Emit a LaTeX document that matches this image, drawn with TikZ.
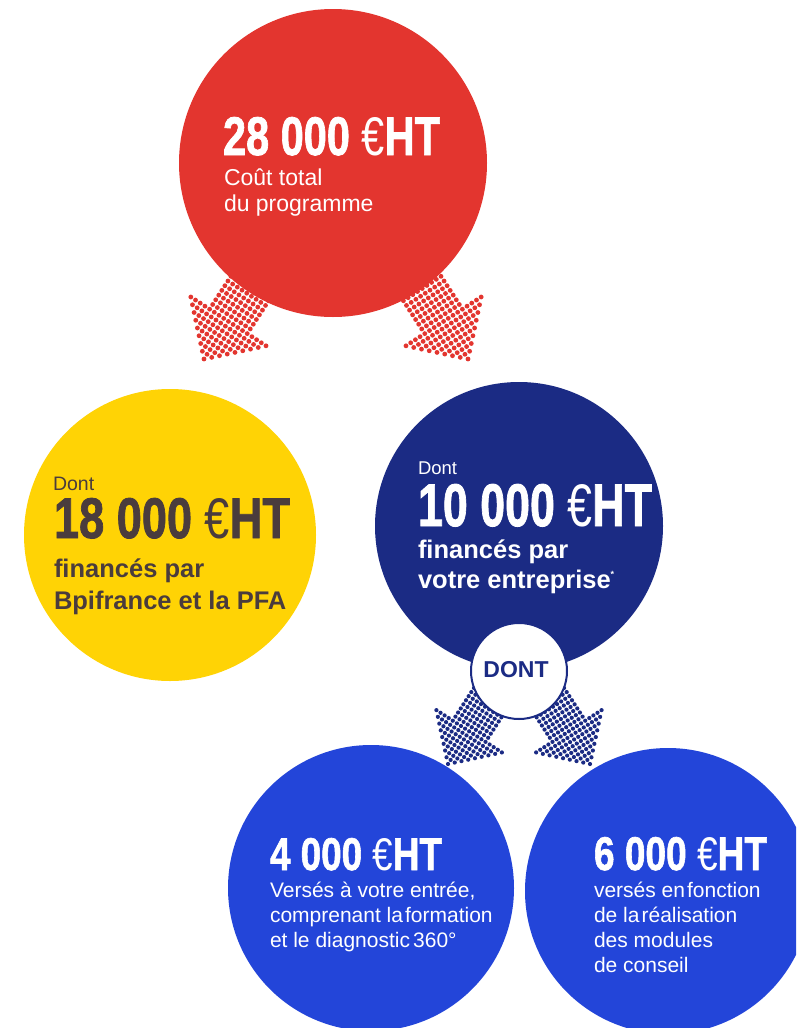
\documentclass[tikz,border=0pt]{standalone}
\usepackage{graphicx}
\usepackage{fontspec}
\setmainfont{Liberation Sans}
\newfontfamily\numfont[FakeBold=1.5]{Liberation Sans Bold}
\newfontfamily\eurofont{Liberation Sans}
\definecolor{cred}{HTML}{E3352F}
\definecolor{cyellow}{HTML}{FFD305}
\definecolor{cnavy}{HTML}{1B2B84}
\definecolor{cblue}{HTML}{2345D9}
\definecolor{cbrown}{HTML}{4A3C3D}
\newcommand\bignum[3]{\resizebox{#1pt}{#2pt}{\numfont #3 {\eurofont €}HT}}
\newcommand\fs[1]{\fontsize{#1}{#1}\selectfont}
% dotted arrow: tip x, tip y, ux, uy (tip->tail), spacing, dot radius, colour, head steps, total steps
\newcommand\dotarrow[9]{%
  \foreach \i in {0,...,#9}{%
    \pgfmathtruncatemacro\jm{\i<=#8 ? \i : 4}%
    \pgfmathtruncatemacro\jn{-\jm}%
    \foreach \j in {\jn,...,\jm}{%
      \fill[#7] ({#1+#5*(\i*(#3)-\j*(#4))},{#2+#5*(\i*(#4)+\j*(#3))}) circle[radius=#6];
    }%
  }%
}
\tikzset{
  disc/.style={circle, inner sep=0pt, outer sep=0pt, draw=none},
  lbl/.style={anchor=base west, inner sep=0pt, outer sep=0pt},
}
\begin{document}
\begin{tikzpicture}[x=1pt, y=-1pt]
\useasboundingbox (0,0) rectangle (796,1028);
\clip (0,0) rectangle (796,1028);
\fill[white] (0,0) rectangle (796,1028);

% dotted arrows (behind the discs)
\dotarrow{204}{359}{0.545}{-0.839}{5.6}{2.4pt}{cred}{8}{18}
\dotarrow{468}{359}{-0.545}{-0.839}{5.6}{2.4pt}{cred}{8}{18}
\dotarrow{448}{764}{0.543}{-0.84}{4.87}{2.1pt}{cnavy}{8}{17}
\dotarrow{590}{764}{-0.543}{-0.84}{4.87}{2.1pt}{cnavy}{8}{17}

% discs
\node[disc, fill=cred, minimum size=308pt] (cost) at (333,163) {};
\node[disc, fill=cyellow, minimum size=292pt] (bpi) at (170,535) {};
\node[disc, fill=cnavy, minimum size=288pt] (ent) at (519,526) {};
\node[disc, fill=white, draw=cnavy, line width=2pt, minimum size=96pt] (dont) at (519,671) {};
\node[disc, fill=cblue, minimum size=286pt] (entree) at (371,888) {};
\node[disc, fill=cblue, minimum size=286pt] (conseil) at (668,891) {};

% red disc text
\node[lbl, white] (rnum) at (223,155) {\bignum{217}{38}{28 000}};
\node[lbl, white, font=\fs{23}] (rl1) at (224,185) {Coût total};
\node[lbl, white, font=\fs{23}] (rl2) at (224,211) {du programme};

% yellow disc text
\node[lbl, cbrown, font=\fs{19.5}] (ydont) at (53,490) {Dont};
\node[lbl, cbrown] (ynum) at (54,538) {\bignum{236}{40}{18 000}};
\node[lbl, cbrown, font=\fs{25.5}\bfseries] (yl1) at (54,577) {financés par};
\node[lbl, cbrown, font=\fs{25.5}\bfseries] (yl2) at (54,609) {Bpifrance et la PFA};

% navy disc text
\node[lbl, white, font=\fs{18.5}] (ndont) at (418,474) {Dont};
\node[lbl, white] (nnum) at (418,526) {\bignum{234}{42}{10 000}};
\node[lbl, white, font=\fs{25.5}\bfseries] (nl1) at (418,558) {financés par};
\node[lbl, white, font=\fs{25.5}\bfseries] (nl2) at (418,588) {votre entreprise\raisebox{11pt}{\fs{9}*}};

% DONT
\node[anchor=base, inner sep=0pt, cnavy, font=\fs{23}\bfseries] (dontt) at (516,677) {DONT};

% bottom-left disc text
\node[lbl, white] (bnum) at (270,870) {\bignum{172}{32}{4 000}};
\node[lbl, white, font=\fs{21}] (bl1) at (270,897) {Versés à votre entrée,};
\node[lbl, white, font=\fs{21}] (bl2) at (270,922) {comprenant la\hspace{0.1em}formation};
\node[lbl, white, font=\fs{21}] (bl3) at (270,947) {et le diagnostic\hspace{0.15em}360°};

% bottom-right disc text
\node[lbl, white] (cnum) at (594,870) {\bignum{173}{33}{6 000}};
\node[lbl, white, font=\fs{21}] (cl1) at (594,897) {versés en\hspace{0.1em}fonction};
\node[lbl, white, font=\fs{21}] (cl2) at (594,922) {de la\hspace{0.1em}réalisation};
\node[lbl, white, font=\fs{21}] (cl3) at (594,947) {des modules};
\node[lbl, white, font=\fs{21}] (cl4) at (594,972) {de conseil};
\end{tikzpicture}
\end{document}
